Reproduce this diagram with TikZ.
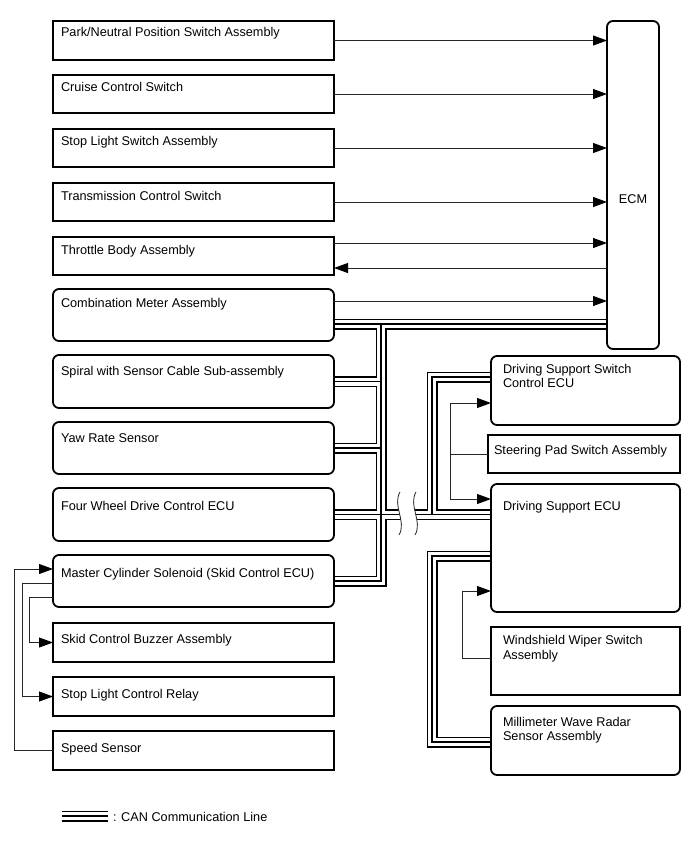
\documentclass[tikz,border=0pt]{standalone}
\usepackage{fontspec}
\setmainfont{Liberation Sans}
\usetikzlibrary{arrows.meta}
\pgfdeclarelayer{bg}
\pgfsetlayers{bg,main}
\tikzset{
  sq/.style={draw=black, line width=1.8pt, fill=white, inner sep=0pt, outer sep=0pt},
  rd/.style={sq, rounded corners=6pt},
  txt/.style={inner sep=0pt, outer sep=0pt, font=\fontsize{12.7}{14}\selectfont},
  ln/.style={draw=black!85, line width=0.9pt},
  arr/.style={ln, -{Triangle[length=14pt,width=10pt,fill=black,color=black]}},
  busA/.style={line width=11pt, black, line join=miter},
  busB/.style={line width=8pt, white, line join=miter},
  busC/.style={line width=1.2pt, black, line join=miter},
}
\newcommand\mybox[6]{\node[#6, anchor=north west, minimum width={(#4-#2)*1pt}, minimum height={(#5-#3)*1pt}] (#1) at (#2,#3) {};}
\begin{document}
\begin{tikzpicture}[x=1pt,y=-1pt]
\useasboundingbox (0,0) rectangle (688,852);
% left boxes
\mybox{pn}{53}{21}{334}{60}{sq}
\mybox{cc}{53}{75}{334}{113}{sq}
\mybox{sls}{53}{129}{334}{167}{sq}
\mybox{tcs}{53}{183}{334}{221}{sq}
\mybox{tb}{53}{237}{334}{275}{sq}
\mybox{cm}{53}{289}{334}{341}{rd}
\mybox{sp}{53}{355}{334}{408}{rd}
\mybox{yr}{53}{422}{334}{474}{rd}
\mybox{fw}{53}{488}{334}{541}{rd}
\mybox{mc}{53}{555}{334}{607}{rd}
\mybox{skb}{53}{623}{334}{662}{sq}
\mybox{slcr}{53}{677}{334}{716}{sq}
\mybox{ss}{53}{731}{334}{770}{sq}
% right boxes
\mybox{ecm}{607}{21}{659}{349}{rd}
\mybox{dssc}{491}{356}{680}{425}{rd}
\mybox{spsa}{488}{435}{680}{473}{sq}
\mybox{dse}{491}{484}{680}{612}{rd}
\mybox{ww}{491}{627}{680}{695}{sq}
\mybox{mw}{491}{706}{680}{775}{rd}
% texts
\node[txt, anchor=base west] (t1) at (61,36) {Park/Neutral Position Switch Assembly};
\node[txt, anchor=base west] (t2) at (61,91) {Cruise Control Switch};
\node[txt, anchor=base west] (t3) at (61,145) {Stop Light Switch Assembly};
\node[txt, anchor=base west] (t4) at (61,200) {Transmission Control Switch};
\node[txt, anchor=base west] (t5) at (61,254) {Throttle Body Assembly};
\node[txt, anchor=base west] (t6) at (61,307) {Combination Meter Assembly};
\node[txt, anchor=base west] (t7) at (61,375) {Spiral with Sensor Cable Sub-assembly};
\node[txt, anchor=base west] (t8) at (61,442) {Yaw Rate Sensor};
\node[txt, anchor=base west] (t9) at (61,510) {Four Wheel Drive Control ECU};
\node[txt, anchor=base west] (t10) at (61,577) {Master Cylinder Solenoid (Skid Control ECU)};
\node[txt, anchor=base west] (t11) at (61,643) {Skid Control Buzzer Assembly};
\node[txt, anchor=base west] (t12) at (61,698) {Stop Light Control Relay};
\node[txt, anchor=base west] (t13) at (61,752) {Speed Sensor};
\node[txt, anchor=base] (t14) at (633,203) {ECM};
\node[txt, anchor=base west] (t15) at (503,373) {Driving Support Switch};
\node[txt, anchor=base west] (t16) at (503,387) {Control ECU};
\node[txt, anchor=base west] (t17) at (494,454) {Steering Pad Switch Assembly};
\node[txt, anchor=base west] (t18) at (503,510) {Driving Support ECU};
\node[txt, anchor=base west] (t19) at (503,644) {Windshield Wiper Switch};
\node[txt, anchor=base west] (t20) at (503,659) {Assembly};
\node[txt, anchor=base west] (t21) at (503,726) {Millimeter Wave Radar};
\node[txt, anchor=base west] (t22) at (503,740) {Sensor Assembly};
\node[txt, anchor=base west] (t23) at (113,821) {: CAN Communication Line};
% bus coordinates
\coordinate (jt) at (381,324);
\coordinate (du) at (432,377);
\coordinate (dl) at (432,556);
\coordinate (dm) at (432,742);
\coordinate (lg1) at (62,816);
\coordinate (lg2) at (108,816);
\begin{pgfonlayer}{bg}
\foreach \s in {busA,busB,busC}{
  \draw[\s] (cm.east |- jt) -- (ecm.west |- jt);
  \draw[\s] (jt) -- (jt |- mc.east) -- (mc.east);
  \draw[\s] (sp.east) -- (sp.east -| jt);
  \draw[\s] (yr.east) -- (yr.east -| jt);
  \draw[\s] (fw.east) -- (dse.west |- fw.east);
  \draw[\s] (dssc.west |- du) -- (du) -- (du |- fw.east);
  \draw[\s] (dse.west |- dl) -- (dl) -- (dm) -- (mw.west |- dm);
  \draw[\s] (lg1) -- (lg2);
}
\end{pgfonlayer}
% break mark
\coordinate (b1t) at (400,492);
\coordinate (b1b) at (399,535);
\coordinate (b2t) at (416,492);
\coordinate (b2b) at (415,535);
\fill[white] (b1t) .. controls (392,506) and (407,521) .. (b1b) -- (b2b) .. controls (423,521) and (408,506) .. (b2t) -- cycle;
\draw[black!85, line width=0.8pt] (b1t) .. controls (392,506) and (407,521) .. (b1b);
\draw[black!85, line width=0.8pt] (b2t) .. controls (408,506) and (423,521) .. (b2b);
% arrows to ECM
\foreach \n in {pn,cc,sls,tcs} \draw[arr] (\n.east) -- (\n.east -| ecm.west);
\draw[arr] ([yshift=13pt]tb.east) -- ([yshift=13pt]tb.east -| ecm.west);
\draw[arr] ([yshift=-12pt]tb.east -| ecm.west) -- ([yshift=-12pt]tb.east);
\draw[arr] ([yshift=14pt]cm.east) -- ([yshift=14pt]cm.east -| ecm.west);
% left side
\coordinate (lx1) at (14,0);
\coordinate (lx2) at (22,0);
\coordinate (lx3) at (29,0);
\draw[arr] (ss.west) -- (ss.west -| lx1) |- ([yshift=12pt]mc.west);
\draw[arr] ([yshift=-2pt]mc.west) -| (lx2 |- slcr.west) -- (slcr.west);
\draw[arr] ([yshift=-16pt]mc.west) -| (lx3 |- skb.west) -- (skb.west);
% steering pad
\coordinate (sa) at (450,403);
\coordinate (sb) at (450,499);
\draw[ln] (spsa.west) -- (spsa.west -| sa);
\draw[ln] (sa) -- (sb);
\draw[arr] (sa) -- (sa -| dssc.west);
\draw[arr] (sb) -- (sb -| dse.west);
% windshield wiper
\coordinate (wa) at (462,591);
\draw[arr] ([yshift=3pt]ww.west) -| (wa) -- (wa -| dse.west);
\end{tikzpicture}
\end{document}
